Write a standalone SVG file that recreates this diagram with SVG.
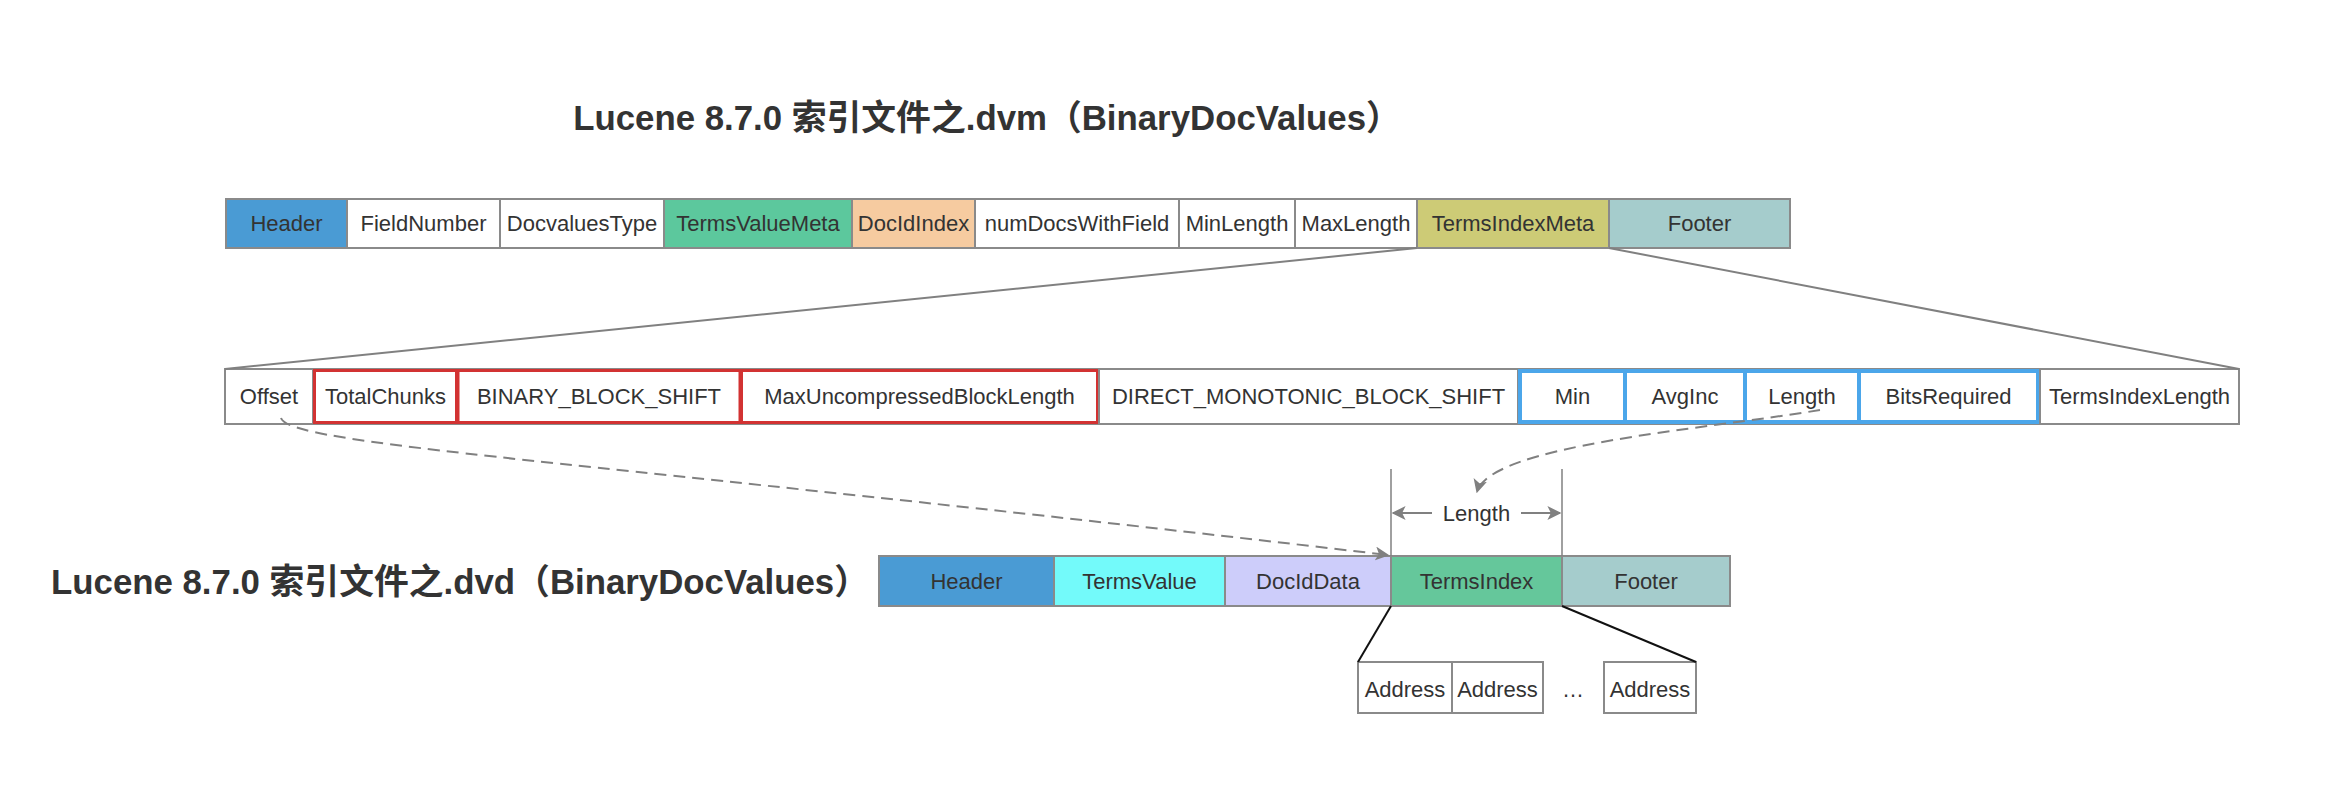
<svg xmlns="http://www.w3.org/2000/svg" width="2340" height="806" viewBox="0 0 2340 806">
<style>
.t{font-family:"Liberation Sans",Arial,sans-serif;font-size:22px;fill:#333;text-anchor:middle;}
.title{font-family:"Liberation Sans","Noto Sans CJK SC",sans-serif;font-size:34.8px;font-weight:bold;fill:#333;text-anchor:middle;}
.g{stroke:#8a8a8a;stroke-width:2;}
.r{fill:none;stroke:#d23232;stroke-width:3;}
.b{fill:none;stroke:#4ba6ea;stroke-width:4;}
.w{fill:#fff;}
.ln{stroke:#808080;stroke-width:2;fill:none;}
.dash{stroke:#808080;stroke-width:2;fill:none;stroke-dasharray:12 7;}
.blk{stroke:#111;stroke-width:2;fill:none;}
</style>
<defs>
<marker id="ah" viewBox="0 0 10 10" refX="9" refY="5" markerWidth="14" markerHeight="14" markerUnits="userSpaceOnUse" orient="auto"><path d="M0,0 L10,5 L0,10 L2.5,5 z" fill="#808080"/></marker>
</defs>
<rect width="2340" height="806" fill="#fff"/>
<text class="title" x="987" y="130">Lucene 8.7.0 索引文件之.dvm（BinaryDocValues）</text>
<text class="title" x="460" y="594">Lucene 8.7.0 索引文件之.dvd（BinaryDocValues）</text>

<g id="dvm">
<g id="dvm-header"><rect class="g" x="226" y="199" width="121" height="49" fill="#4a9bd4"/><text class="t" x="286.5" y="231">Header</text></g>
<g id="dvm-fieldnumber"><rect class="g w" x="347" y="199" width="153" height="49"/><text class="t" x="423.5" y="231">FieldNumber</text></g>
<g id="dvm-docvaluestype"><rect class="g w" x="500" y="199" width="164" height="49"/><text class="t" x="582" y="231">DocvaluesType</text></g>
<g id="dvm-termsvaluemeta"><rect class="g" x="664" y="199" width="188" height="49" fill="#5cc89d"/><text class="t" x="758" y="231">TermsValueMeta</text></g>
<g id="dvm-docidindex"><rect class="g" x="852" y="199" width="123" height="49" fill="#f6cba0"/><text class="t" x="913.5" y="231">DocIdIndex</text></g>
<g id="dvm-numdocs"><rect class="g w" x="975" y="199" width="204" height="49"/><text class="t" x="1077" y="231">numDocsWithField</text></g>
<g id="dvm-minlength"><rect class="g w" x="1179" y="199" width="116" height="49"/><text class="t" x="1237" y="231">MinLength</text></g>
<g id="dvm-maxlength"><rect class="g w" x="1295" y="199" width="122" height="49"/><text class="t" x="1356" y="231">MaxLength</text></g>
<g id="dvm-termsindexmeta"><rect class="g" x="1417" y="199" width="192" height="49" fill="#cdcb76"/><text class="t" x="1513" y="231">TermsIndexMeta</text></g>
<g id="dvm-footer"><rect class="g" x="1609" y="199" width="181" height="49" fill="#a5cccc"/><text class="t" x="1699.5" y="231">Footer</text></g>
</g>

<g id="meta">
<rect class="g w" x="225" y="369" width="2014" height="55"/>
<g id="m-offset"><rect class="g w" x="225" y="369" width="88" height="55"/><text class="t" x="269" y="404">Offset</text></g>
<g id="m-totalchunks"><rect class="r" x="314.5" y="370.5" width="142" height="52"/><text class="t" x="385.5" y="404">TotalChunks</text></g>
<g id="m-binary"><rect class="r" x="458" y="370.5" width="282" height="52"/><text class="t" x="599" y="404">BINARY_BLOCK_SHIFT</text></g>
<g id="m-maxunc"><rect class="r" x="741.5" y="370.5" width="356" height="52"/><text class="t" x="919.5" y="404">MaxUncompressedBlockLength</text></g>
<g id="m-direct"><rect class="g w" x="1099" y="369" width="419" height="55"/><text class="t" x="1308.5" y="404">DIRECT_MONOTONIC_BLOCK_SHIFT</text></g>
<g id="m-min"><rect class="b" x="1520" y="371" width="105" height="51"/><text class="t" x="1572.5" y="404">Min</text></g>
<g id="m-avginc"><rect class="b" x="1625" y="371" width="120" height="51"/><text class="t" x="1685" y="404">AvgInc</text></g>
<g id="m-length"><rect class="b" x="1745" y="371" width="114" height="51"/><text class="t" x="1802" y="404">Length</text></g>
<g id="m-bitsrequired"><rect class="b" x="1859" y="371" width="179" height="51"/><text class="t" x="1948.5" y="404">BitsRequired</text></g>
<g id="m-termsindexlength"><rect class="g w" x="2040" y="369" width="199" height="55"/><text class="t" x="2139.5" y="404">TermsIndexLength</text></g>
</g>

<g id="dvd">
<g id="d-header"><rect class="g" x="879" y="556" width="175" height="50" fill="#4a9bd4"/><text class="t" x="966.5" y="589">Header</text></g>
<g id="d-termsvalue"><rect class="g" x="1054" y="556" width="171" height="50" fill="#73fafa"/><text class="t" x="1139.5" y="589">TermsValue</text></g>
<g id="d-dociddata"><rect class="g" x="1225" y="556" width="166" height="50" fill="#cdcdfa"/><text class="t" x="1308" y="589">DocIdData</text></g>
<g id="d-termsindex"><rect class="g" x="1391" y="556" width="171" height="50" fill="#65c79b"/><text class="t" x="1476.5" y="589">TermsIndex</text></g>
<g id="d-footer"><rect class="g" x="1562" y="556" width="168" height="50" fill="#a5cccc"/><text class="t" x="1646" y="589">Footer</text></g>
</g>

<g id="addresses">
<g id="a1"><rect class="g w" x="1358" y="662" width="94" height="51"/><text class="t" x="1405" y="697">Address</text></g>
<g id="a2"><rect class="g w" x="1452" y="662" width="91" height="51"/><text class="t" x="1497.5" y="697">Address</text></g>
<text class="t" x="1573" y="697">…</text>
<g id="a3"><rect class="g w" x="1604" y="662" width="92" height="51"/><text class="t" x="1650" y="697">Address</text></g>
</g>

<g id="connectors">
<line class="ln" x1="1417" y1="248" x2="225" y2="369"/>
<line class="ln" x1="1609" y1="248" x2="2239" y2="369"/>
<line class="blk" x1="1391" y1="606" x2="1358" y2="662"/>
<line class="blk" x1="1562" y1="606" x2="1696" y2="662"/>
<path class="dash" d="M281,418 C290,445 560,458 1388,555" marker-end="url(#ah)"/>
<path class="dash" d="M1820,410 C1700,430 1490,445 1477,492" marker-end="url(#ah)"/>
<line stroke="#808080" stroke-width="1.5" x1="1391" y1="469" x2="1391" y2="556"/>
<line stroke="#808080" stroke-width="1.5" x1="1562" y1="469" x2="1562" y2="556"/>
<line class="ln" x1="1432" y1="513" x2="1393" y2="513" marker-end="url(#ah)"/>
<line class="ln" x1="1521" y1="513" x2="1560" y2="513" marker-end="url(#ah)"/>
<text class="t" x="1476.5" y="521">Length</text>
</g>
</svg>
